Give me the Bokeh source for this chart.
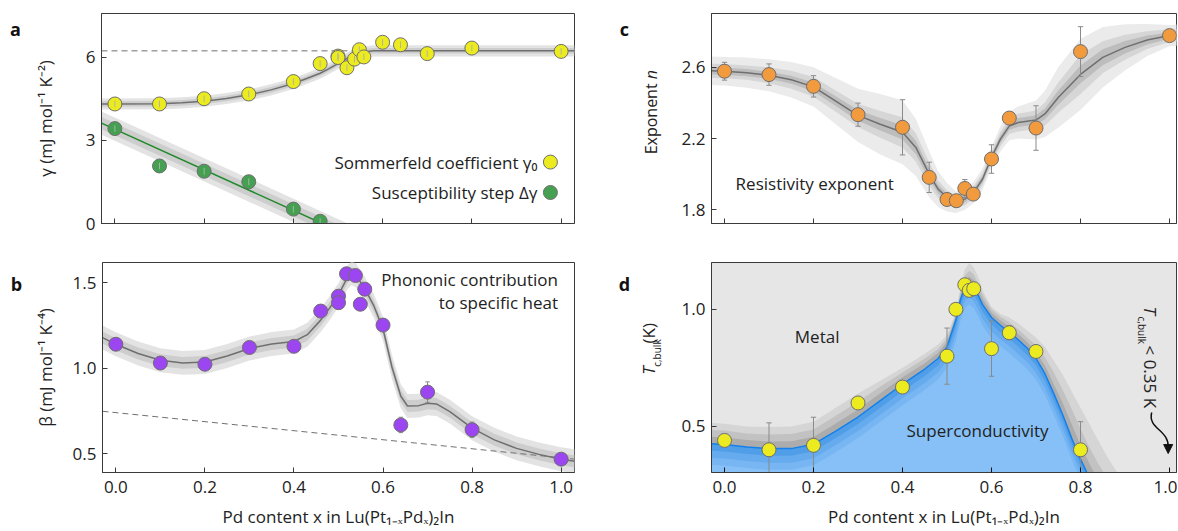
import numpy as np
from bokeh.plotting import figure
from bokeh.layouts import column, row
from bokeh.models import Range1d, Label, Arrow, NormalHead, NumeralTickFormatter
from bokeh.embed import file_html
from bokeh.resources import INLINE

FONT = "Open Sans"

# ---------------- panel a : Sommerfeld coefficient / susceptibility step
a_gamma_x = [0.0, 0.1, 0.2, 0.3, 0.4, 0.46, 0.5, 0.5, 0.52, 0.537, 0.548, 0.558, 0.6, 0.64, 0.7, 0.8, 1.0]
a_gamma_y = [4.32, 4.32, 4.51, 4.68, 5.13, 5.78, 6.05, 6.0, 5.63, 5.94, 6.28, 6.02, 6.55, 6.46, 6.14, 6.34, 6.22]
a_gamma_err = [0.12] * 17
a_dgam_x = [0.0, 0.1, 0.2, 0.3, 0.4, 0.46]
a_dgam_y = [3.43, 2.08, 1.89, 1.51, 0.52, 0.08]
a_dgam_err = [0.12] * 6
a_fit_x = [-0.03, 0.0, 0.1, 0.15, 0.2, 0.25, 0.3, 0.35, 0.4, 0.43, 0.46, 0.48, 0.5, 0.52, 0.54, 0.56, 0.58,
           0.6, 0.65, 0.7, 0.8, 0.9, 1.0, 1.03]
a_fit_y = [4.32, 4.32, 4.33, 4.36, 4.42, 4.52, 4.65, 4.83, 5.06, 5.24, 5.43, 5.6, 5.78, 5.97, 6.13, 6.21, 6.24,
           6.24, 6.24, 6.24, 6.24, 6.24, 6.24, 6.24]
a_lin_x = [-0.03, 0.56]
a_lin_y = [3.63, -0.70]
a_gamma_n = 6.24          # normal-state Sommerfeld level (dashed)
a_dash_x = [-0.03, 0.56]

# ---------------- panel b : phonon coefficient beta
b_x = [0.0, 0.1, 0.2, 0.3, 0.4, 0.46, 0.5, 0.5, 0.518, 0.538, 0.549, 0.559, 0.6, 0.64, 0.7, 0.8, 1.0]
b_y = [1.139, 1.029, 1.022, 1.12, 1.127, 1.333, 1.42, 1.382, 1.551, 1.541, 1.373, 1.461, 1.251, 0.667, 0.859, 0.639, 0.467]
b_err = [0.015, 0.015, 0.015, 0.015, 0.015, 0.015, 0.015, 0.015, 0.015, 0.015, 0.015, 0.015, 0.015, 0.045, 0.06, 0.045, 0.02]
b_fit_x = [-0.03, 0.0, 0.05, 0.1, 0.15, 0.2, 0.25, 0.3, 0.35, 0.4, 0.43, 0.46, 0.48, 0.5, 0.52, 0.53, 0.54, 0.56,
           0.58, 0.6, 0.62, 0.64, 0.655, 0.68, 0.7, 0.72, 0.75, 0.8, 0.85, 0.9, 0.95, 1.0, 1.03]
b_fit_y = [1.178, 1.139, 1.085, 1.045, 1.03, 1.035, 1.07, 1.114, 1.14, 1.155, 1.195, 1.28, 1.35, 1.427, 1.53, 1.555,
           1.54, 1.46, 1.36, 1.228, 1.006, 0.835, 0.778, 0.78, 0.794, 0.79, 0.745, 0.648, 0.58, 0.53, 0.495, 0.467, 0.455]
b_dash_x = [-0.03, 1.03]
b_dash_y = [0.747, 0.467]

# ---------------- panel c : resistivity exponent n
c_x = [0.0, 0.1, 0.2, 0.3, 0.4, 0.46, 0.5, 0.521, 0.54, 0.559, 0.6, 0.64, 0.7, 0.8, 1.0]
c_y = [2.578, 2.559, 2.493, 2.334, 2.263, 1.982, 1.858, 1.851, 1.92, 1.888, 2.085, 2.315, 2.259, 2.688, 2.778]
c_err = [0.05, 0.06, 0.06, 0.065, 0.155, 0.085, 0.03, 0.03, 0.05, 0.03, 0.08, 0.02, 0.125, 0.14, 0.02]
c_fit_x = [-0.03, 0.0, 0.05, 0.1, 0.15, 0.2, 0.25, 0.3, 0.35, 0.4, 0.43, 0.46, 0.48, 0.5, 0.52, 0.54, 0.56, 0.58,
           0.6, 0.62, 0.64, 0.66, 0.68, 0.7, 0.72, 0.75, 0.8, 0.85, 0.9, 0.95, 1.0, 1.03]
c_fit_y = [2.58, 2.578, 2.57, 2.555, 2.53, 2.49, 2.41, 2.33, 2.28, 2.235, 2.15, 2.0, 1.916, 1.87, 1.842, 1.86,
           1.898, 1.973, 2.094, 2.197, 2.27, 2.29, 2.297, 2.304, 2.338, 2.43, 2.56, 2.656, 2.712, 2.753, 2.778, 2.782]
c_hw_outer = [0.08, 0.08, 0.085, 0.09, 0.10, 0.11, 0.13, 0.15, 0.17, 0.18, 0.16, 0.13, 0.10, 0.08, 0.06, 0.06,
              0.06, 0.06, 0.06, 0.07, 0.08, 0.09, 0.10, 0.11, 0.13, 0.17, 0.20, 0.17, 0.13, 0.09, 0.06, 0.06]
c_hw_mid = [0.04, 0.04, 0.04, 0.045, 0.05, 0.055, 0.06, 0.065, 0.075, 0.085, 0.08, 0.065, 0.05, 0.04, 0.035, 0.035,
            0.035, 0.035, 0.035, 0.04, 0.045, 0.05, 0.05, 0.055, 0.065, 0.085, 0.11, 0.09, 0.07, 0.05, 0.035, 0.035]
c_hw_inner = [0.02, 0.02, 0.02, 0.02, 0.022, 0.025, 0.028, 0.03, 0.035, 0.04, 0.038, 0.03, 0.025, 0.02, 0.018, 0.018,
              0.018, 0.018, 0.018, 0.02, 0.022, 0.025, 0.025, 0.027, 0.03, 0.04, 0.05, 0.045, 0.035, 0.025, 0.018, 0.018]

# ---------------- panel d : bulk Tc phase diagram
d_x = [0.0, 0.1, 0.2, 0.3, 0.4, 0.5, 0.52, 0.54, 0.55, 0.56, 0.6, 0.64, 0.7, 0.8]
d_y = [0.44, 0.40, 0.419, 0.60, 0.668, 0.80, 1.0, 1.105, 1.081, 1.088, 0.832, 0.90, 0.82, 0.40]
d_err = [0.02, 0.115, 0.12, 0.02, 0.02, 0.12, 0.02, 0.02, 0.02, 0.02, 0.118, 0.03, 0.02, 0.12]
d_line_x = [-0.03, 0.0, 0.05, 0.1, 0.15, 0.2, 0.25, 0.3, 0.35, 0.4, 0.45, 0.48, 0.5, 0.52, 0.53, 0.54, 0.55, 0.56,
            0.57, 0.58, 0.6, 0.62, 0.64, 0.66, 0.68, 0.7, 0.72, 0.74, 0.76, 0.78, 0.8, 0.82]
d_line_y = [0.426, 0.423, 0.412, 0.405, 0.405, 0.424, 0.48, 0.54, 0.61, 0.68, 0.745, 0.79, 0.84, 0.955, 1.04, 1.095,
            1.112, 1.095, 1.06, 1.02, 0.965, 0.932, 0.903, 0.87, 0.835, 0.79, 0.725, 0.64, 0.55, 0.45, 0.36, 0.28]
d_gray_x = d_line_x + [0.84, 0.86, 0.88, 0.9, 0.92]
d_gray_outer = [0.515, 0.511, 0.50, 0.497, 0.50, 0.52, 0.58, 0.64, 0.695, 0.75, 0.81, 0.85, 0.89, 0.99, 1.09, 1.17,
                1.198, 1.18, 1.14, 1.08, 1.01, 0.98, 0.965, 0.94, 0.91, 0.88, 0.84, 0.78, 0.72, 0.65, 0.58, 0.51,
                0.44, 0.37, 0.31, 0.26, 0.22]
d_gray_mid = [0.485, 0.482, 0.47, 0.465, 0.467, 0.487, 0.545, 0.605, 0.67, 0.73, 0.79, 0.83, 0.875, 0.98, 1.075,
              1.145, 1.165, 1.15, 1.11, 1.065, 1.0, 0.968, 0.945, 0.915, 0.88, 0.845, 0.795, 0.73, 0.655, 0.575,
              0.49, 0.41, 0.34, 0.28, 0.23, 0.2, 0.2]
d_gray_inner = [0.456, 0.453, 0.442, 0.435, 0.436, 0.455, 0.512, 0.572, 0.642, 0.71, 0.77, 0.815, 0.86, 0.97, 1.06,
                1.12, 1.14, 1.125, 1.085, 1.045, 0.985, 0.952, 0.925, 0.895, 0.86, 0.818, 0.76, 0.68, 0.6, 0.51,
                0.42, 0.34, 0.27, 0.22, 0.2, 0.2, 0.2]
d_arrow_x = [0.960, 0.950, 1.000, 0.997]   # start, control 0, control 1, end
d_arrow_y = [0.559, 0.49, 0.485, 0.41]

XTICKS = [0.0, 0.2, 0.4, 0.6, 0.8, 1.0]
GRAY_LINE = "#6f6f6f"
TOP_H, BOT_H = 243, 288


def make_fig(w, h, xr, yr, bl, br, bt, bb):
    p = figure(width=w, height=h, x_range=Range1d(*xr), y_range=Range1d(*yr),
               output_backend="svg", toolbar_location=None,
               min_border_left=bl, min_border_right=br, min_border_top=bt, min_border_bottom=bb)
    p.grid.visible = False
    p.outline_line_color = "#3a3a3a"
    p.outline_line_width = 1
    for ax in (p.xaxis[0], p.yaxis[0]):
        ax.major_tick_in = 5
        ax.major_tick_out = 0
        ax.minor_tick_line_color = None
        ax.axis_line_color = "#3a3a3a"
        ax.major_tick_line_color = "#3a3a3a"
        ax.major_label_text_font = FONT
        ax.major_label_text_font_size = "17px"
        ax.major_label_text_color = "#222222"
        ax.axis_label_text_font = FONT
        ax.axis_label_text_font_size = "17px"
        ax.axis_label_text_font_style = "normal"
        ax.axis_label_text_color = "#222222"
        ax.major_label_standoff = 6
    p.xaxis.ticker = XTICKS
    return p


def gutter(w, h):
    g = figure(width=w, height=h, x_range=Range1d(0, w), y_range=Range1d(0, h),
               output_backend="svg", toolbar_location=None, x_axis_type=None, y_axis_type=None,
               min_border_left=0, min_border_right=0, min_border_top=0, min_border_bottom=0)
    g.grid.visible = False
    g.outline_line_color = None
    return g


def letter(g, s, x, y):
    g.add_layout(Label(x=x, y=y, text=s, text_font=FONT, text_font_size="18px", text_font_style="bold",
                       text_color="#111111", text_align="center", text_baseline="middle"))


def txt(p, x, y, s, align="left", size="17px", **kw):
    p.add_layout(Label(x=x, y=y, text=s, text_font=FONT, text_font_size=size, text_color="#222222",
                       text_align=align, text_baseline="middle", **kw))


def errbars(p, xs, ys, es, cap=0.008, color="#8a8a8a"):
    xs = np.array(xs); ys = np.array(ys); es = np.array(es)
    p.segment(xs, ys - es, xs, ys + es, line_color=color, line_width=1)
    if cap > 0:
        p.segment(xs - cap, ys + es, xs + cap, ys + es, line_color=color, line_width=1)
        p.segment(xs - cap, ys - es, xs + cap, ys - es, line_color=color, line_width=1)


def pts(p, xs, ys, color):
    p.scatter(xs, ys, marker="circle", size=14, fill_color=color, line_color="#6e6e6e", line_width=1)


def hide_xlabels(p):
    p.xaxis.major_label_text_color = None
    p.xaxis.major_label_text_font_size = "0px"


def bottom_axis(p):
    p.xaxis.formatter = NumeralTickFormatter(format="0.0")
    p.xaxis.major_label_standoff = 8
    p.xaxis.axis_label = "Pd content x in Lu(Pt₁₋ₓPdₓ)₂In"
    p.xaxis.axis_label_standoff = 9


XR_L = (-0.03, 1.03)
XR_R = (-0.0292, 1.0157)

# ---------------- figure a
pa = make_fig(563, TOP_H, XR_L, (0, 7.59), 71, 19, 13, 20)
pa.yaxis.ticker = [0, 3, 6]
hide_xlabels(pa)
pa.yaxis.axis_label = "γ (mJ mol⁻¹ K⁻²)"
pa.yaxis.axis_label_standoff = 26
fx = np.array(a_fit_x); fy = np.array(a_fit_y)
pa.varea(fx, fy - 0.2, fy + 0.2, fill_color="#e3e3e3")
pa.varea(fx, fy - 0.1, fy + 0.1, fill_color="#cdcdcd")
lx = np.array(a_lin_x); ly = np.array(a_lin_y)
pa.varea(lx, ly - 0.42, ly + 0.42, fill_color="#e3e3e3")
pa.varea(lx, ly - 0.22, ly + 0.22, fill_color="#cdcdcd")
pa.line(a_dash_x, [a_gamma_n, a_gamma_n], line_color="#707070", line_dash="6 4", line_width=1)
pa.line(a_fit_x, a_fit_y, line_color=GRAY_LINE, line_width=1.5)
pa.line(a_lin_x, a_lin_y, line_color="#1f8a2a", line_width=1.5)
pts(pa, a_dgam_x, a_dgam_y, "#45a052")
pts(pa, a_gamma_x, a_gamma_y, "#eceb1f")
errbars(pa, a_gamma_x, a_gamma_y, a_gamma_err, cap=0, color="#b4b4a0")
errbars(pa, a_dgam_x, a_dgam_y, a_dgam_err, cap=0, color="#9ab89e")
txt(pa, 0.947, 2.22, "Sommerfeld coefficient γ₀", align="right")
txt(pa, 0.947, 1.12, "Susceptibility step Δγ", align="right")
pts(pa, [0.976], [2.22], "#eceb1f")
pts(pa, [0.976], [1.12], "#45a052")

# ---------------- figure b
pb = make_fig(563, BOT_H, XR_L, (0.389, 1.617), 71, 19, 19, 59)
pb.yaxis.ticker = [0.5, 1.0, 1.5]
pb.yaxis.formatter = NumeralTickFormatter(format="0.0")
bottom_axis(pb)
pb.yaxis.axis_label = "β (mJ mol⁻¹ K⁻⁴)"
pb.yaxis.axis_label_standoff = 13
bx = np.array(b_fit_x); by = np.array(b_fit_y)
pb.varea(bx, by - 0.07, by + 0.07, fill_color="#e3e3e3")
pb.varea(bx, by - 0.035, by + 0.035, fill_color="#cdcdcd")
pb.line(b_dash_x, b_dash_y, line_color="#707070", line_dash="6 4", line_width=1)
pb.line(b_fit_x, b_fit_y, line_color=GRAY_LINE, line_width=1.5)
errbars(pb, b_x, b_y, b_err, cap=0.005)
pts(pb, b_x, b_y, "#9b46f0")
txt(pb, 0.993, 1.52, "Phononic contribution", align="right")
txt(pb, 0.993, 1.384, "to specific heat", align="right")

# ---------------- figure c
pc = make_fig(512, TOP_H, XR_R, (1.723, 2.902), 46, 1, 13, 20)
pc.yaxis.ticker = [1.8, 2.2, 2.6]
hide_xlabels(pc)
cx = np.array(c_fit_x); cy = np.array(c_fit_y)
pc.varea(cx, cy - np.array(c_hw_outer), cy + np.array(c_hw_outer), fill_color="#ebebeb")
pc.varea(cx, cy - np.array(c_hw_mid), cy + np.array(c_hw_mid), fill_color="#d6d6d6")
pc.varea(cx, cy - np.array(c_hw_inner), cy + np.array(c_hw_inner), fill_color="#bdbdbd")
pc.line(c_fit_x, c_fit_y, line_color=GRAY_LINE, line_width=1.5)
errbars(pc, c_x, c_y, c_err, cap=0.006)
pts(pc, c_x, c_y, "#f29a3e")
txt(pc, 0.025, 1.948, "Resistivity exponent")

# ---------------- figure d
pd = make_fig(512, BOT_H, XR_R, (0.303, 1.2), 46, 1, 19, 59)
pd.background_fill_color = "#e6e6e6"
pd.yaxis.ticker = [0.5, 1.0]
pd.yaxis.formatter = NumeralTickFormatter(format="0.0")
bottom_axis(pd)
pd.xaxis.major_tick_line_color = "#111111"
gx = np.array(d_gray_x)
pd.varea(gx, 0.2, np.array(d_gray_outer), fill_color="#d5d5d5")
pd.varea(gx, 0.2, np.array(d_gray_mid), fill_color="#c2c2c2")
pd.varea(gx, 0.2, np.array(d_gray_inner), fill_color="#acacac")
lxd = np.array(d_line_x); lyd = np.array(d_line_y)
pd.varea(lxd, 0.2, lyd, fill_color="#86c0f6")
pd.varea(lxd, lyd - 0.09, lyd, fill_color="#77b6f2")
pd.varea(lxd, lyd - 0.06, lyd, fill_color="#66abed")
pd.varea(lxd, lyd - 0.03, lyd, fill_color="#519ee8")
pd.line(d_line_x, d_line_y, line_color="#1480ea", line_width=1.5)
errbars(pd, d_x, d_y, d_err, cap=0.006)
pts(pd, d_x, d_y, "#eceb1f")
txt(pd, 0.158, 0.882, "Metal")
txt(pd, 0.409, 0.483, "Superconductivity")
pd.bezier(x0=[d_arrow_x[0]], y0=[d_arrow_y[0]], cx0=[d_arrow_x[1]], cy0=[d_arrow_y[1]],
          cx1=[d_arrow_x[2]], cy1=[d_arrow_y[2]], x1=[d_arrow_x[3]], y1=[d_arrow_y[3]],
          line_color="#111111", line_width=1.5)
pd.add_layout(Arrow(x_start=d_arrow_x[3], y_start=d_arrow_y[3], x_end=d_arrow_x[3], y_end=0.384,
                    line_color="#111111", line_width=1.5,
                    end=NormalHead(size=9, fill_color="#111111", line_color="#111111")))
rot = dict(x_units="screen", y_units="screen", text_font=FONT, text_color="#222222",
           text_align="left", text_baseline="middle", angle=-np.pi / 2)
pd.add_layout(Label(x=439, y=166, text="T", text_font_size="17px", text_font_style="italic", **rot))
pd.add_layout(Label(x=430, y=156, text="c,bulk", text_font_size="10px", **rot))
pd.add_layout(Label(x=439, y=127, text="< 0.35 K", text_font_size="17px", **rot))

# ---------------- gutters holding panel letters and composite axis titles
gL_top = gutter(30, TOP_H)
letter(gL_top, "a", 15, TOP_H - 18)
gL_bot = gutter(30, BOT_H)
letter(gL_bot, "b", 16, BOT_H - 29)

up = dict(text_font=FONT, text_color="#222222", text_align="left", text_baseline="middle", angle=np.pi / 2)
gR_top = gutter(72, TOP_H)
letter(gR_top, "c", 31, TOP_H - 18)
gR_top.add_layout(Label(x=57, y=80, text="Exponent", text_font_size="16px", **up))
gR_top.add_layout(Label(x=57, y=167, text="n", text_font_size="16px", text_font_style="italic", **up))
gR_bot = gutter(72, BOT_H)
letter(gR_bot, "d", 31, BOT_H - 30)
gR_bot.add_layout(Label(x=55, y=134, text="T", text_font_size="17px", text_font_style="italic", **up))
gR_bot.add_layout(Label(x=63, y=145, text="c,bulk", text_font_size="10px", **up))
gR_bot.add_layout(Label(x=55, y=177, text="(K)", text_font_size="17px", **up))

layout = column(row(gL_top, pa, gR_top, pc), row(gL_bot, pb, gR_bot, pd))
open("out.html", "w").write(file_html(layout, INLINE))
